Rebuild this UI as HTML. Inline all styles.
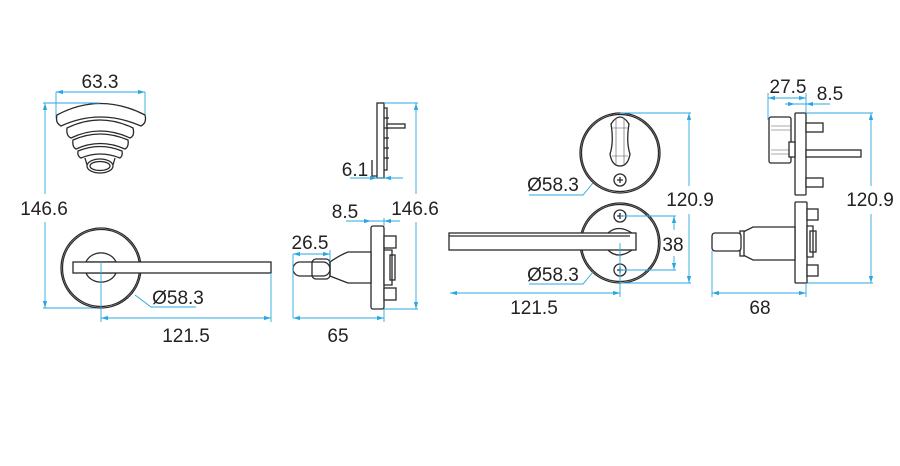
<!DOCTYPE html>
<html><head><meta charset="utf-8"><style>
html,body{margin:0;padding:0;background:#fff;}
svg{display:block;}
text{font-family:"Liberation Sans",Arial,sans-serif;font-size:19px;fill:#222;text-anchor:middle;}
.k{fill:none;stroke:#2a2a2a;stroke-width:1.3;}
.kf{fill:#fff;stroke:#2a2a2a;stroke-width:1.3;}
.t{fill:none;stroke:#555;stroke-width:0.6;}
.d{stroke:#29a8e0;stroke-width:0.9;fill:none;}
</style></head><body>
<svg width="900" height="466" viewBox="0 0 900 466" xmlns="http://www.w3.org/2000/svg">
<defs>
<marker id="m" viewBox="0 0 10 6" refX="10" refY="3" markerWidth="8" markerHeight="5" orient="auto-start-reverse"><path d="M0,0 L10,3 L0,6 Z" fill="#29a8e0"/></marker>
</defs>

<!-- ===== View 1: fan (top) ===== -->
<path class="d" d="M56,92 V118 M145,92 V115" />
<line class="d" x1="56" y1="92" x2="145" y2="92" marker-start="url(#m)" marker-end="url(#m)"/>
<text x="100" y="88">63.3</text>
<path class="kf" d="M57,115 Q100,92 145,115 Q147,123 141,126 Q100,108 61,126 Q55,123 57,115 Z"/>
<path class="kf" d="M67,128 Q100,112 133,128 Q135,136 130,138 Q100,124 71,138 Q66,136 67,128 Z"/>
<path class="kf" d="M73,140 Q100,128 128,140 Q129,147 125,149 Q100,138 76,149 Q72,147 73,140 Z"/>
<path class="kf" d="M78,151 Q100,142 122,151 Q123,156 120,158 Q100,150 81,158 Q77,156 78,151 Z"/>
<path class="k" d="M85,158 L87,165 M115,158 L113,165"/>
<ellipse class="kf" cx="100" cy="166" rx="13" ry="7"/>
<ellipse class="k" cx="100" cy="166" rx="10" ry="4.5"/>

<!-- 146.6 left -->
<path class="d" d="M43,103 H100 M43,308 H100"/>
<line class="d" x1="45" y1="103" x2="45" y2="194" marker-start="url(#m)"/>
<line class="d" x1="45" y1="222" x2="45" y2="308" marker-end="url(#m)"/>
<text x="44" y="215">146.6</text>

<!-- rosette -->
<circle class="k" cx="101" cy="268" r="40"/>
<circle class="k" cx="101" cy="268" r="38.5"/>
<path class="kf" d="M86,262 A16,14 0 0 1 116,262 Z"/>
<path class="kf" d="M86,273 A16,14 0 0 0 116,273 Z"/>
<rect class="kf" x="73" y="262" width="198" height="11"/>
<path class="d" d="M101,262 V322"/>
<path class="d" d="M135,295 L151,307 H196"/>
<text x="178" y="304">Ø58.3</text>
<path class="d" d="M271,273 V322"/>
<line class="d" x1="101" y1="318" x2="271" y2="318" marker-start="url(#m)" marker-end="url(#m)"/>
<text x="186" y="342">121.5</text>

<!-- ===== View 2 ===== -->
<rect class="kf" x="377" y="103" width="7" height="75"/>
<path class="k" d="M384,108 H387 V170 H384 M387,115 V165"/>
<path class="k" d="M384,118 H389 M384,128 H389 M384,138 H389 M384,148 H389 M384,158 H389"/>
<rect class="kf" x="387" y="124" width="18" height="4"/>
<path class="k" d="M372,160 V176 H377"/>
<path class="d" d="M350,178 H403"/>
<line class="d" x1="362" y1="178" x2="377" y2="178" marker-end="url(#m)"/>
<line class="d" x1="398" y1="178" x2="384" y2="178" marker-end="url(#m)"/>
<text x="355" y="176">6.1</text>
<path class="d" d="M384,103 H418 M384,309 H418"/>
<line class="d" x1="416" y1="103" x2="416" y2="194" marker-start="url(#m)"/>
<line class="d" x1="416" y1="222" x2="416" y2="309" marker-end="url(#m)"/>
<text x="415" y="215">146.6</text>

<rect class="kf" x="371" y="226" width="13" height="83" rx="2"/>
<rect class="kf" x="384" y="236" width="12" height="12"/>
<rect class="kf" x="384" y="288" width="12" height="12"/>
<path class="kf" d="M384,250 H392 V285 H384 Z"/>
<rect class="k" x="390" y="255" width="5" height="25"/>
<path class="kf" d="M330,262 Q340,255 348,252 H371 V283 H348 Q340,280 330,276 Z"/>
<rect class="kf" x="293" y="262" width="37" height="14" rx="7"/>
<rect class="k" x="312" y="259" width="18" height="20" rx="4"/>
<path class="d" d="M293,254 V318 M330,250 V262"/>
<line class="d" x1="293" y1="254" x2="330" y2="254" marker-start="url(#m)" marker-end="url(#m)"/>
<text x="310" y="249">26.5</text>
<path class="d" d="M346,221 H400 M384,218 V226"/>
<line class="d" x1="358" y1="221" x2="371" y2="221" marker-end="url(#m)"/>
<line class="d" x1="396" y1="221" x2="384" y2="221" marker-end="url(#m)"/>
<text x="345" y="218">8.5</text>
<path class="d" d="M384,309 V322"/>
<line class="d" x1="293" y1="318" x2="384" y2="318" marker-start="url(#m)" marker-end="url(#m)"/>
<text x="338" y="342">65</text>

<!-- ===== View 3 ===== -->
<circle class="k" cx="620" cy="153" r="40"/>
<circle class="k" cx="620" cy="153" r="38.5"/>
<path class="k" d="M611,124 Q620,110 629,124 Q626,142 630,154 Q628,166 620,166 Q612,166 610,154 Q614,142 611,124 Z"/>
<path class="t" d="M616,118 V164 M624,118 V164 M612,128 H628 M612,156 H628"/>
<circle class="k" cx="620" cy="180" r="6"/>
<path class="k" d="M617,180 H623 M620,177 V183"/>
<path class="d" d="M620,113 H691"/>
<path class="d" d="M593,183 L583,195 H529"/>
<text x="553" y="191">Ø58.3</text>

<circle class="k" cx="620" cy="243" r="40"/>
<circle class="k" cx="620" cy="243" r="38.5"/>
<circle class="k" cx="620" cy="216" r="6"/>
<circle class="k" cx="620" cy="270" r="6"/>
<path class="k" d="M617,216 H623 M620,213 V219 M617,270 H623 M620,267 V273"/>
<path class="k" d="M608,233 Q618,224 632,233 M608,250 Q618,260 632,250"/>
<rect class="kf" x="449" y="233" width="187" height="17"/>
<path class="k" d="M449,236 H630"/>
<path class="d" d="M620,216 H676 M620,270 H676 M620,283 H691"/>
<line class="d" x1="674" y1="216" x2="674" y2="230" marker-start="url(#m)"/>
<line class="d" x1="674" y1="256" x2="674" y2="270" marker-end="url(#m)"/>
<text x="673" y="251">38</text>
<line class="d" x1="689" y1="113" x2="689" y2="186" marker-start="url(#m)"/>
<line class="d" x1="689" y1="214" x2="689" y2="283" marker-end="url(#m)"/>
<text x="690" y="206">120.9</text>
<path class="d" d="M593,272 L583,284 H529"/>
<text x="553" y="281">Ø58.3</text>
<path class="d" d="M620,243 V297"/>
<line class="d" x1="450" y1="293" x2="620" y2="293" marker-start="url(#m)" marker-end="url(#m)"/>
<text x="534" y="314">121.5</text>

<!-- ===== View 4 ===== -->
<rect class="kf" x="795" y="113" width="11" height="82" rx="1"/>
<rect class="kf" x="769" y="117" width="22" height="46" rx="2"/>
<path class="t" d="M771,126 H791 M771,130 H791 M771,150 H791 M771,154 H791"/>
<rect class="kf" x="789" y="142" width="6" height="15"/>
<rect class="kf" x="806" y="123" width="17" height="9"/>
<rect class="kf" x="806" y="178" width="17" height="9"/>
<rect class="kf" x="806" y="150" width="55" height="7"/>
<path class="d" d="M768,93 V120 M806,93 V113"/>
<line class="d" x1="768" y1="98" x2="806" y2="98" marker-start="url(#m)" marker-end="url(#m)"/>
<text x="788" y="93">27.5</text>
<path class="d" d="M785,104 H830"/>
<line class="d" x1="786" y1="104" x2="795" y2="104" marker-end="url(#m)"/>
<line class="d" x1="816" y1="104" x2="806" y2="104" marker-end="url(#m)"/>
<text x="830" y="100">8.5</text>
<path class="d" d="M806,113 H873 M806,283 H873"/>
<line class="d" x1="871" y1="113" x2="871" y2="186" marker-start="url(#m)"/>
<line class="d" x1="871" y1="214" x2="871" y2="283" marker-end="url(#m)"/>
<text x="870" y="206">120.9</text>

<rect class="kf" x="795" y="202" width="12" height="81" rx="1"/>
<rect class="kf" x="807" y="209" width="11" height="11"/>
<rect class="kf" x="807" y="265" width="11" height="11"/>
<path class="kf" d="M807,226 H813 V257 H807 Z"/>
<rect class="k" x="810" y="231" width="6" height="21"/>
<path class="kf" d="M753,227 H795 V260 H753 L743,255 V232 Z"/>
<rect class="kf" x="740" y="231" width="4" height="25"/>
<rect class="kf" x="712" y="233" width="29" height="18" rx="3"/>
<path class="d" d="M712,251 V297 M806,283 V297"/>
<line class="d" x1="712" y1="293" x2="806" y2="293" marker-start="url(#m)" marker-end="url(#m)"/>
<text x="760" y="314">68</text>
</svg>
</body></html>
